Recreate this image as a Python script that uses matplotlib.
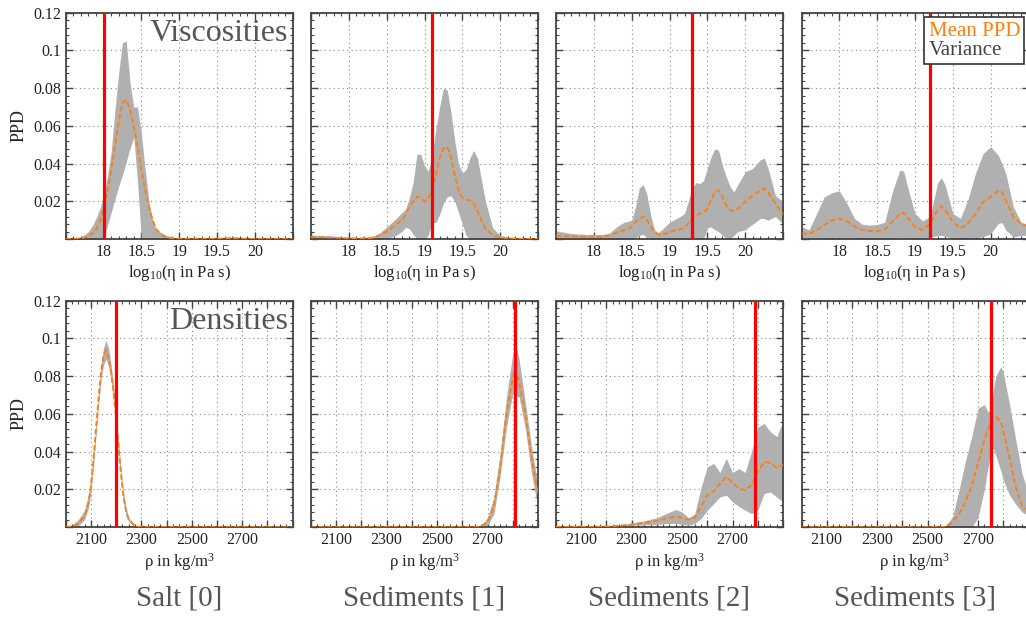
import matplotlib
matplotlib.use("Agg")
import matplotlib.pyplot as plt
from matplotlib.ticker import MultipleLocator, FuncFormatter
import numpy as np

plt.rcParams['font.family'] = ['Liberation Serif', 'DejaVu Serif']
plt.rcParams['mathtext.fontset'] = 'custom'
plt.rcParams['mathtext.rm'] = 'Liberation Serif'
plt.rcParams['mathtext.it'] = 'Liberation Serif:italic'

# ---- data ----
titles = ['Salt [0]', 'Sediments [1]', 'Sediments [2]', 'Sediments [3]']
true_visc = [18.0, 19.1, 19.3, 19.2]
true_dens = [2200, 2810, 2790, 2750]

# viscosity panels (log10 eta)
v0_x = [17.5, 17.7, 17.8, 17.85, 17.9, 17.95, 18.0, 18.05, 18.1, 18.15, 18.2, 18.25, 18.3, 18.35,
        18.4, 18.45, 18.5, 18.55, 18.6, 18.65, 18.7, 18.8, 18.9, 19.0, 19.5, 19.7, 19.9, 20.5]
v0_mean = [0, 0.0004, 0.0015, 0.003, 0.005, 0.009, 0.016, 0.025, 0.036, 0.049, 0.062, 0.072, 0.074, 0.069,
           0.060, 0.049, 0.037, 0.026, 0.017, 0.010, 0.005, 0.0015, 0.0005, 0.0002, 0.0002, 0.0006, 0.0002, 0.0001]
v0_up = [0, 0.001, 0.004, 0.007, 0.011, 0.016, 0.022, 0.033, 0.046, 0.068, 0.088, 0.104, 0.105, 0.083,
         0.070, 0.070, 0.056, 0.037, 0.020, 0.010, 0.005, 0.0025, 0.001, 0.0006, 0.0006, 0.0012, 0.0006, 0.0004]
v0_lo = [0, 0, 0, 0, 0, 0, 0, 0.007, 0.014, 0.021, 0.028, 0.034, 0.041, 0.048,
         0.054, 0.030, 0, 0, 0, 0, 0, 0, 0, 0, 0, 0, 0, 0]

v1_x = [17.5, 17.7, 17.9, 18.1, 18.3, 18.4, 18.5, 18.6, 18.7, 18.75, 18.8, 18.85, 18.9, 18.95, 19.0,
        19.05, 19.1, 19.15, 19.2, 19.25, 19.3, 19.35, 19.4, 19.45, 19.5, 19.55, 19.6, 19.65, 19.7,
        19.75, 19.8, 19.9, 20.0, 20.1, 20.3, 20.5]
v1_mean = [0.0012, 0.0010, 0.0006, 0.0004, 0.0006, 0.002, 0.004, 0.007, 0.010, 0.013, 0.017, 0.020, 0.0225,
           0.022, 0.020, 0.0215, 0.026, 0.034, 0.043, 0.048, 0.049, 0.043, 0.034, 0.026, 0.022, 0.021, 0.0205,
           0.019, 0.015, 0.010, 0.006, 0.002, 0.001, 0.0005, 0.0002, 0.0002]
v1_up = [0.0022, 0.0018, 0.0012, 0.0008, 0.0012, 0.003, 0.0065, 0.010, 0.014, 0.016, 0.022, 0.030, 0.045,
         0.045, 0.039, 0.036, 0.044, 0.058, 0.070, 0.080, 0.079, 0.067, 0.052, 0.040, 0.035, 0.037, 0.043,
         0.047, 0.043, 0.032, 0.021, 0.006, 0.002, 0.001, 0.0003, 0.0003]
v1_lo = [0, 0, 0, 0, 0, 0, 0.0005, 0.0015, 0.004, 0.0062, 0.0055, 0.0025, 0.0005, 0, 0, 0.002, 0.0088,
         0.0088, 0.013, 0.019, 0.0225, 0.023, 0.020, 0.014, 0.008, 0.002, 0, 0, 0, 0, 0, 0, 0, 0, 0, 0]

v2_x = [17.5, 17.7, 17.9, 18.1, 18.2, 18.3, 18.4, 18.5, 18.55, 18.6, 18.65, 18.7, 18.75, 18.8, 18.85, 18.9,
        19.0, 19.1, 19.2, 19.3, 19.35, 19.4, 19.45, 19.5, 19.55, 19.6, 19.65, 19.7, 19.75, 19.8, 19.85, 19.9,
        20.0, 20.1, 20.2, 20.25, 20.3, 20.4, 20.5]
v2_mean = [0.0018, 0.0015, 0.0012, 0.0013, 0.002, 0.0034, 0.0048, 0.0065, 0.009, 0.011, 0.012, 0.0105, 0.007,
           0.004, 0.0025, 0.002, 0.004, 0.0048, 0.006, 0.011, 0.0125, 0.0135, 0.0145, 0.016, 0.021, 0.025, 0.026,
           0.0225, 0.018, 0.0155, 0.015, 0.016, 0.0198, 0.023, 0.026, 0.027, 0.025, 0.019, 0.013]
v2_up = [0.0044, 0.003, 0.0025, 0.0025, 0.003, 0.0065, 0.009, 0.010, 0.017, 0.027, 0.029, 0.024, 0.013, 0.005,
         0.0035, 0.005, 0.009, 0.011, 0.0136, 0.027, 0.030, 0.0295, 0.031, 0.0375, 0.0437, 0.048, 0.047, 0.039,
         0.033, 0.028, 0.025, 0.0286, 0.0357, 0.0375, 0.042, 0.043, 0.038, 0.023, 0.020]
v2_lo = [0, 0, 0, 0, 0, 0, 0, 0, 0.0005, 0.002, 0.0025, 0.001, 0, 0, 0, 0, 0, 0, 0, 0, 0, 0, 0, 0.006,
         0.0065, 0.005, 0.004, 0.002, 0.0005, 0, 0.002, 0.004, 0.005, 0.008, 0.011, 0.011, 0.010, 0.012, 0.008]

v3_x = [17.5, 17.6, 17.7, 17.8, 17.9, 18.0, 18.1, 18.2, 18.3, 18.4, 18.5, 18.6, 18.7, 18.8, 18.85, 18.9,
        19.0, 19.1, 19.2, 19.3, 19.35, 19.4, 19.5, 19.6, 19.7, 19.8, 19.9, 20.0, 20.1, 20.15, 20.2, 20.3,
        20.4, 20.5]
v3_mean = [0.003, 0.0028, 0.0048, 0.0074, 0.0100, 0.011, 0.0095, 0.0068, 0.0050, 0.0043, 0.0043, 0.0052,
           0.0092, 0.0135, 0.014, 0.0118, 0.0065, 0.0048, 0.0083, 0.0154, 0.0175, 0.0154, 0.0092, 0.0057,
           0.0083, 0.0136, 0.0198, 0.0224, 0.0256, 0.025, 0.0207, 0.0118, 0.008, 0.0069]
v3_up = [0.0065, 0.005, 0.0136, 0.0224, 0.0246, 0.0256, 0.019, 0.011, 0.008, 0.0074, 0.0078, 0.009,
         0.025, 0.0366, 0.036, 0.028, 0.0136, 0.0097, 0.012, 0.030, 0.0325, 0.0285, 0.0136, 0.011,
         0.021, 0.035, 0.0454, 0.049, 0.0445, 0.040, 0.0348, 0.017, 0.0092, 0.0074]
v3_lo = [0.0012, 0.0004, 0.0009, 0.0002, 0.0, 0.0008, 0.0005, 0.0002, 0.0, 0.0003, 0.0003, 0.0002, 0.0002,
         0.0009, 0.0008, 0.0004, 0, 0.0003, 0.0008, 0.002, 0.002, 0.0015, 0.0003, 0.0002, 0.0, 0.0008,
         0.0012, 0.003, 0.0083, 0.0088, 0.0048, 0.0012, 0.002, 0.002]

# density panels (kg/m^3)
d0_x = [2000, 2025, 2050, 2075, 2090, 2100, 2110, 2120, 2130, 2140, 2150, 2160, 2170, 2180, 2190, 2200,
        2210, 2220, 2230, 2240, 2250, 2275, 2300, 2900]
d0_mean = [0, 0.0005, 0.002, 0.006, 0.013, 0.022, 0.036, 0.052, 0.068, 0.082, 0.091, 0.094, 0.090, 0.082,
           0.071, 0.058, 0.042, 0.027, 0.015, 0.008, 0.004, 0.0005, 0.0001, 0]
d0_up = [0, 0.001, 0.004, 0.009, 0.017, 0.026, 0.039, 0.055, 0.071, 0.086, 0.095, 0.099, 0.095, 0.086,
         0.075, 0.061, 0.045, 0.030, 0.018, 0.010, 0.005, 0.001, 0.0002, 0.0001]
d0_lo = [0, 0.0001, 0.0008, 0.004, 0.010, 0.018, 0.032, 0.048, 0.064, 0.078, 0.086, 0.089, 0.085, 0.078,
         0.067, 0.055, 0.039, 0.024, 0.012, 0.006, 0.003, 0.0002, 0, 0]

d1_x = [2000, 2650, 2675, 2700, 2725, 2750, 2775, 2800, 2810, 2825, 2850, 2875, 2900]
d1_mean = [0, 0, 0.0005, 0.003, 0.011, 0.032, 0.060, 0.079, 0.084, 0.077, 0.060, 0.036, 0.018]
d1_up = [0, 0, 0.0008, 0.005, 0.016, 0.039, 0.069, 0.092, 0.098, 0.089, 0.066, 0.042, 0.022]
d1_lo = [0, 0, 0.0002, 0.001, 0.007, 0.027, 0.053, 0.071, 0.070, 0.069, 0.052, 0.028, 0.010]

d2_x = [2000, 2200, 2250, 2300, 2350, 2400, 2450, 2475, 2500, 2525, 2550, 2575, 2600, 2625, 2650, 2675,
        2700, 2725, 2750, 2775, 2800, 2825, 2850, 2875, 2900]
d2_mean = [0.0002, 0.0003, 0.0008, 0.0014, 0.0023, 0.0034, 0.005, 0.0055, 0.005, 0.004, 0.005, 0.0108, 0.017,
           0.019, 0.023, 0.0267, 0.0235, 0.0205, 0.0196, 0.0223, 0.0293, 0.0346, 0.034, 0.0316, 0.033]
d2_up = [0.0003, 0.0005, 0.001, 0.0023, 0.0034, 0.005, 0.008, 0.0094, 0.008, 0.005, 0.007, 0.021, 0.032,
         0.0338, 0.029, 0.0364, 0.029, 0.031, 0.029, 0.040, 0.053, 0.055, 0.0505, 0.048, 0.056]
d2_lo = [0, 0.0001, 0.0005, 0.001, 0.0012, 0.0015, 0.002, 0.002, 0.0015, 0.001, 0.002, 0.0046, 0.009,
         0.0125, 0.016, 0.017, 0.0134, 0.011, 0.009, 0.0072, 0.009, 0.0178, 0.0187, 0.016, 0.0134]

d3_x = [2000, 2550, 2575, 2600, 2625, 2650, 2675, 2700, 2725, 2740, 2750, 2760, 2770, 2790, 2800, 2825,
        2850, 2875, 2900]
d3_mean = [0, 0, 0.0004, 0.003, 0.007, 0.0135, 0.022, 0.034, 0.046, 0.052, 0.056, 0.058, 0.0585, 0.056,
           0.051, 0.037, 0.021, 0.011, 0.009]
d3_up = [0, 0, 0.001, 0.006, 0.020, 0.035, 0.048, 0.063, 0.065, 0.061, 0.063, 0.072, 0.080, 0.085,
         0.082, 0.065, 0.046, 0.028, 0.018]
d3_lo = [0, 0, 0, 0, 0, 0, 0, 0.005, 0.020, 0.032, 0.038, 0.042, 0.038, 0.030, 0.025, 0.017,
         0.012, 0.008, 0.006]

visc = [(v0_x, v0_mean, v0_up, v0_lo), (v1_x, v1_mean, v1_up, v1_lo),
        (v2_x, v2_mean, v2_up, v2_lo), (v3_x, v3_mean, v3_up, v3_lo)]
dens = [(d0_x, d0_mean, d0_up, d0_lo), (d1_x, d1_mean, d1_up, d1_lo),
        (d2_x, d2_mean, d2_up, d2_lo), (d3_x, d3_mean, d3_up, d3_lo)]

W, H = 1026, 617
fig = plt.figure(figsize=(W / 100, H / 100), dpi=100)

spine_c = '#444444'
gray_fill = '#b0b0b0'
orange = '#ff7f0e'
lefts = [65.7, 311, 556, 801.5]
ax_w = 227
ax_h = 226.5
tops = [12.7, 300.7]


def style_axis(ax, xlim, xmajor, xminor, xlabel):
    ax.set_xlim(*xlim)
    ax.set_ylim(0, 0.12)
    ax.xaxis.set_major_locator(MultipleLocator(xmajor))
    ax.xaxis.set_minor_locator(MultipleLocator(xminor))
    ax.yaxis.set_major_locator(MultipleLocator(0.02))
    ax.yaxis.set_minor_locator(MultipleLocator(0.004))
    ax.tick_params(which='both', direction='in', top=True, right=True, colors=spine_c,
                   labelcolor='#222222', labelsize=11.5)
    ax.tick_params(which='major', length=5, width=1.0)
    ax.tick_params(which='minor', length=2.5, width=0.8)
    for s in ax.spines.values():
        s.set_color(spine_c)
        s.set_linewidth(1.3)
    ax.grid(True, which='major', linestyle=(0, (1, 3)), color='#888888', linewidth=0.8)
    ax.set_xlabel(xlabel, fontsize=12, color='#222222', labelpad=2)


def xfmt_visc(v, pos):
    if abs(v - 20.5) < 1e-6 or abs(v - 17.5) < 1e-6:
        return ''
    return f'{v:g}'


def xfmt_dens(v, pos):
    iv = int(round(v))
    if iv in (2100, 2300, 2500, 2700):
        return str(iv)
    return ''


def yfmt(v, pos):
    if abs(v) < 1e-9:
        return ''
    return f'{v:g}'


for row in range(2):
    for col in range(4):
        l = lefts[col]
        t = tops[row]
        ax = fig.add_axes([l / W, 1 - (t + ax_h) / H, ax_w / W, ax_h / H])
        if row == 0:
            x, m, up, lo = visc[col]
            style_axis(ax, (17.5, 20.5), 0.5, 0.1, r'log$_{10}$(η in Pa s)')
            ax.xaxis.set_major_formatter(FuncFormatter(xfmt_visc))
            truth = true_visc[col]
        else:
            x, m, up, lo = dens[col]
            style_axis(ax, (2000, 2900), 100, 25, r'ρ in kg/m$^3$')
            ax.xaxis.set_major_formatter(FuncFormatter(xfmt_dens))
            truth = true_dens[col]
        band = ax.fill_between(x, lo, up, color=gray_fill, linewidth=0, label='Variance', zorder=2)
        line, = ax.plot(x, m, color=orange, linestyle='--', linewidth=1.3, dashes=(3, 1.5),
                        label='Mean PPD', zorder=3)
        ax.axvline(truth, color='red', linewidth=2.3, zorder=4)
        if col == 0:
            ax.yaxis.set_major_formatter(FuncFormatter(yfmt))
            ax.set_ylabel('PPD', fontsize=13, color='#222222', labelpad=4)
        else:
            ax.tick_params(labelleft=False)
        if row == 0 and col == 0:
            ax.text(0.98, 0.97, 'Viscosities', transform=ax.transAxes, ha='right', va='top',
                    fontsize=23, color='#555555', zorder=5)
        if row == 1 and col == 0:
            ax.text(0.98, 0.97, 'Densities', transform=ax.transAxes, ha='right', va='top',
                    fontsize=23, color='#555555', zorder=5)
        if row == 0 and col == 3:
            leg = ax.legend([line, band], ['Mean PPD', 'Variance'], loc='upper right',
                            handlelength=0, handletextpad=0, fontsize=15,
                            fancybox=False, framealpha=1, edgecolor='#333333',
                            borderpad=0.2, borderaxespad=0.2, labelspacing=0.0)
            leg.get_frame().set_linewidth(1.2)
            for h in leg.legend_handles:
                h.set_visible(False)
            for txt in leg.get_texts():
                txt.set_color(orange if txt.get_text() == 'Mean PPD' else '#444444')
            leg.set_zorder(6)
        if row == 1:
            fig.text((l + ax_w / 2) / W, 1 - 598 / H, titles[col], ha='center', va='center',
                     fontsize=21, color='#555555')

fig.savefig('out.png', dpi=100)
